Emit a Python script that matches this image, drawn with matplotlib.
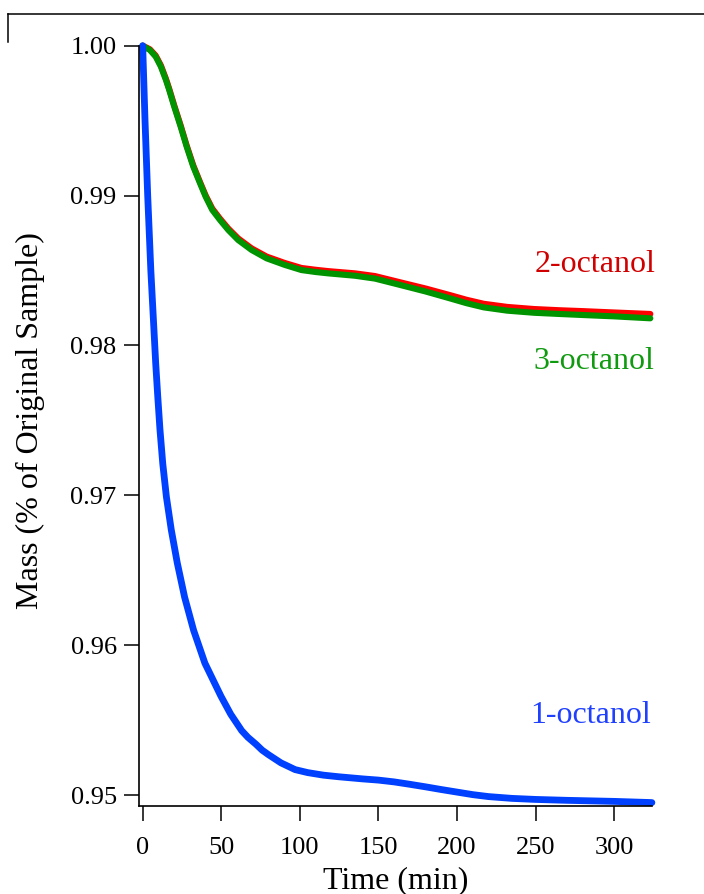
import matplotlib
matplotlib.use("Agg")
import matplotlib.pyplot as plt
from matplotlib.lines import Line2D
from matplotlib.ticker import FormatStrFormatter

plt.rcParams['font.family'] = ['Liberation Serif', 'DejaVu Serif']

# 1-octanol (blue)
t_oct1 = [0, 1.5, 3.2, 5.2, 7.2, 8.3, 9.6, 11.0, 12.8, 15.1, 18.2, 22.0, 26.7, 32.4,
          39.6, 49.8, 56, 63, 67, 72, 76, 80, 88, 97, 105, 115, 125, 140, 150, 160,
          170, 180, 190, 200, 210, 220, 235, 250, 270, 300, 324]
m_oct1 = [1.0, 0.995, 0.990, 0.985, 0.981, 0.9788, 0.9766, 0.9744, 0.9721, 0.9699,
          0.9677, 0.9655, 0.9632, 0.9610, 0.9588, 0.9566, 0.9554, 0.9543, 0.95385,
          0.9534, 0.9530, 0.9527, 0.95215, 0.95170, 0.95150, 0.95133, 0.95122,
          0.95108, 0.95100, 0.95088, 0.95072, 0.95055, 0.95037, 0.95020, 0.95003,
          0.94990, 0.94978, 0.94971, 0.94965, 0.94958, 0.94950]

# 3-octanol (green)
t_oct3 = [0, 1.0, 4.6, 8.3, 11.6, 14.8, 16.9, 20.1, 24.2, 28.0, 32.2, 36.5, 40.1, 44.3,
          49.2, 54.5, 60.8, 69.3, 78.9, 90.5, 101, 110, 118, 135.1, 147.8, 164, 180,
          195.5, 206, 217, 232, 249, 265, 280, 300, 323]
m_oct3 = [1.0, 0.99993, 0.99971, 0.99927, 0.99860, 0.99771, 0.99704, 0.99593, 0.99459,
          0.99326, 0.99193, 0.99082, 0.98992, 0.98904, 0.98837, 0.98770, 0.98703,
          0.98637, 0.98581, 0.98537, 0.98503, 0.98490, 0.98481, 0.98465, 0.98446,
          0.98403, 0.98360, 0.98314, 0.98282, 0.98254, 0.98232, 0.98218, 0.98210,
          0.98203, 0.98194, 0.98181]

# 2-octanol (red)
t_oct2 = [0, 1.0, 4.6, 8.3, 11.6, 14.8, 16.9, 20.1, 24.2, 28.0, 32.2, 36.5, 40.1, 44.3,
          49.2, 54.5, 60.8, 69.3, 78.9, 90.5, 101, 110, 118, 135.1, 147.8, 164, 180,
          195.5, 206, 217, 232, 249, 265, 280, 300, 323]
m_oct2 = [1.0, 0.99995, 0.99976, 0.99934, 0.99868, 0.99779, 0.99712, 0.99601, 0.99467,
          0.99334, 0.99201, 0.99090, 0.99000, 0.98913, 0.98846, 0.98780, 0.98714,
          0.98648, 0.98593, 0.98550, 0.98517, 0.98505, 0.98496, 0.98481, 0.98463,
          0.98421, 0.98380, 0.98336, 0.98305, 0.98278, 0.98257, 0.98243, 0.98235,
          0.98229, 0.98220, 0.98210]

xticks = [0, 50, 100, 150, 200, 250, 300]
yticks = [0.95, 0.96, 0.97, 0.98, 0.99, 1.00]

fig = plt.figure(figsize=(7.04, 8.94), dpi=100)
ax = fig.add_axes([0.1974, 0.0984, 0.7286, 0.8505])

ax.plot(t_oct2, m_oct2, color='#ff0000', lw=4.4, clip_on=False, solid_capstyle='round')
ax.plot(t_oct3, m_oct3, color='#009400', lw=4.4, clip_on=False, solid_capstyle='round')
ax.plot(t_oct1, m_oct1, color='#0040ff', lw=4.9, clip_on=False, solid_capstyle='round')

ax.text(288, 0.98537, '2-octanol', color='#d00000', fontsize=23, ha='center', va='center')
ax.text(287, 0.97891, '3-octanol', color='#109a10', fontsize=23, ha='center', va='center')
ax.text(285, 0.95534, '1-octanol', color='#2040ff', fontsize=23, ha='center', va='center')

ax.set_xlim(-2.35, 324)
ax.set_ylim(0.94927, 1.0)
ax.set_xticks(xticks)
ax.set_yticks(yticks)
ax.yaxis.set_major_formatter(FormatStrFormatter('%.2f'))
ax.tick_params(direction='out', length=11, width=1.1, labelsize=19, pad=5)
ax.tick_params(axis='x', pad=11)

ax.spines['top'].set_visible(False)
ax.spines['right'].set_visible(False)
ax.spines['left'].set_linewidth(1.2)
ax.spines['bottom'].set_linewidth(1.2)

ax.set_xlabel('Time (min)', fontsize=23)
ax.set_ylabel('Mass (% of Original Sample)', fontsize=23)
ax.xaxis.set_label_coords(0.5, -0.079)
ax.yaxis.set_label_coords(-0.184, 0.507)

# frame corner at top-left of the figure
fig.add_artist(Line2D([0.0114, 1.0], [0.9843, 0.9843], color='black', lw=1.1))
fig.add_artist(Line2D([0.0114, 0.0114], [0.9843, 0.953], color='black', lw=1.1))

fig.savefig('out.png', dpi=100)
